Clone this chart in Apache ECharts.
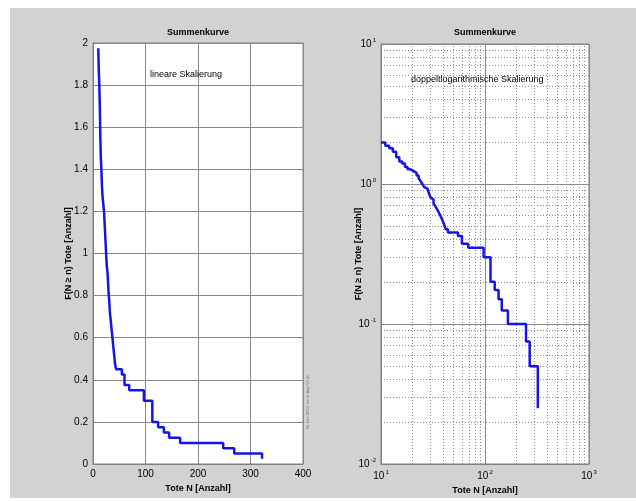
<!DOCTYPE html>
<html><head><meta charset="utf-8">
<script src="https://cdn.jsdelivr.net/npm/echarts@6/dist/echarts.min.js"></script>
<style>html,body{margin:0;padding:0;background:#fff}#c{width:636px;height:501px}</style>
</head><body><div id="c"></div>
<script>
// Tote N (Anzahl) und Summenhäufigkeit F(N >= n)
const toteN = [10,11,12,13,14,15,16,17,18,19,20,21,22,23,24,25,26,27,28,29,30,31,32,33,34,35,36,37,38,39,40,41,42,44,55,60,69,97,113,124,135,145,166,248,269,322];
const summenF = [1.975,1.875,1.8,1.7,1.55,1.45,1.4,1.325,1.275,1.25,1.225,1.2,1.15,1.1,1.05,1.0,0.95,0.925,0.9,0.85,0.8,0.775,0.725,0.7,0.675,0.65,0.625,0.6,0.575,0.55,0.525,0.5,0.475,0.45,0.425,0.375,0.35,0.3,0.2,0.175,0.15,0.125,0.1,0.075,0.05,0.025];
const linXTicks = [0,100,200,300,400];
const linYTicks = [0,0.2,0.4,0.6,0.8,1,1.2,1.4,1.6,1.8,2];
const logMinorX = [20,30,40,50,60,70,80,90,200,300,400,500,600,700,800,900];
const logMinorY = [0.02,0.03,0.04,0.05,0.06,0.07,0.08,0.09,0.2,0.3,0.4,0.5,0.6,0.7,0.8,0.9,2,3,4,5,6,7,8,9];

const FONT = '"Liberation Sans", Arial, sans-serif';
const pts = toteN.map((n,i)=>[n, summenF[i]]);
const chart = echarts.init(document.getElementById('c'), null, {renderer:'canvas'});

const tickLbl = {color:'#000', fontSize:10, fontFamily:FONT};
const boxLine = {show:true, onZero:false, lineStyle:{color:'#808080', width:1}};
const inTick = {show:true, inside:true, length:4, lineStyle:{color:'#808080'}};
const majorSplit = {show:true, lineStyle:{color:'#8a8a8a', width:1}};
const logFmt = v => '{b|10}{e|' + Math.round(Math.log10(v)) + '}';
const logRich = {b:{fontSize:10, fontFamily:FONT, color:'#000', lineHeight:14}, e:{fontSize:6, fontFamily:FONT, color:'#000', verticalAlign:'top', lineHeight:14, padding:[0,0,6,1]}};
const nameStyle = {fontSize:9, fontWeight:'bold', fontFamily:FONT, color:'#000'};

chart.setOption({
  backgroundColor:'#ffffff',
  animation:false,
  graphic:[
    {type:'rect', z:-100, shape:{x:10, y:8, width:626, height:490}, style:{fill:'#d2d2d2'}},
    {type:'text', x:198, y:33, style:{text:'Summenkurve', textAlign:'center', textVerticalAlign:'middle', font:'bold 9px ' + FONT, fill:'#000'}},
    {type:'text', x:485, y:33, style:{text:'Summenkurve', textAlign:'center', textVerticalAlign:'middle', font:'bold 9px ' + FONT, fill:'#000'}},
    {type:'text', x:150, y:75, z:50, style:{text:'lineare Skalierung', textAlign:'left', textVerticalAlign:'middle', font:'9px ' + FONT, fill:'#000'}},
    {type:'text', x:411, y:80, z:50, style:{text:'doppeltlogarithmische Skalierung', textAlign:'left', textVerticalAlign:'middle', font:'9px ' + FONT, fill:'#000'}},
    {type:'text', x:308, y:402, rotation:Math.PI/2, style:{text:'06-Dez-2003  ws-le Aqa V3.ds', textAlign:'center', textVerticalAlign:'middle', font:'4px ' + FONT, fill:'#777'}}
  ],
  grid:[
    {left:93, top:43, width:210, height:421, show:true, backgroundColor:'#fff', borderColor:'#808080', borderWidth:1},
    {left:381, top:44, width:208, height:420, show:true, backgroundColor:'#fff', borderColor:'#808080', borderWidth:1}
  ],
  xAxis:[
    {gridIndex:0, type:'value', min:linXTicks[0], max:linXTicks[linXTicks.length-1], interval:100,
     axisLine:boxLine, axisTick:inTick, splitLine:majorSplit, axisLabel:Object.assign({margin:5}, tickLbl),
     name:'Tote N [Anzahl]', nameLocation:'middle', nameGap:17, nameTextStyle:nameStyle},
    {gridIndex:1, type:'log', logBase:10, min:10, max:1000,
     axisLine:boxLine, axisTick:inTick, splitLine:majorSplit,
     axisLabel:{formatter:logFmt, rich:logRich, margin:5},
     name:'Tote N [Anzahl]', nameLocation:'middle', nameGap:18, nameTextStyle:nameStyle}
  ],
  yAxis:[
    {gridIndex:0, type:'value', min:linYTicks[0], max:linYTicks[linYTicks.length-1], interval:0.2,
     axisLine:boxLine, axisTick:inTick, splitLine:majorSplit, axisLabel:Object.assign({margin:5}, tickLbl),
     name:'F(N ≥ n) Tote [Anzahl]', nameLocation:'middle', nameGap:20, nameMoveOverlap:false, nameTextStyle:nameStyle},
    {gridIndex:1, type:'log', logBase:10, min:0.01, max:10,
     axisLine:boxLine, axisTick:inTick, splitLine:majorSplit,
     axisLabel:{formatter:logFmt, rich:logRich, margin:5},
     name:'F(N ≥ n) Tote [Anzahl]', nameLocation:'middle', nameGap:18, nameMoveOverlap:false, nameTextStyle:nameStyle}
  ],
  series:[
    {type:'line', xAxisIndex:1, yAxisIndex:1, data:[], z:1, silent:true,
     markLine:{silent:true, symbol:'none', label:{show:false}, animation:false,
       lineStyle:{type:[1,2], color:'#8f8f8f', width:1},
       data: logMinorX.map(v=>({xAxis:v})).concat(logMinorY.map(v=>({yAxis:v})))}},
    {type:'line', xAxisIndex:0, yAxisIndex:0, data:pts, step:'end', showSymbol:false, z:5,
     lineStyle:{color:'#1414e6', width:2.5}},
    {type:'line', xAxisIndex:1, yAxisIndex:1, data:pts, step:'end', showSymbol:false, z:5,
     lineStyle:{color:'#1414e6', width:2.5}}
  ]
});
</script></body></html>
